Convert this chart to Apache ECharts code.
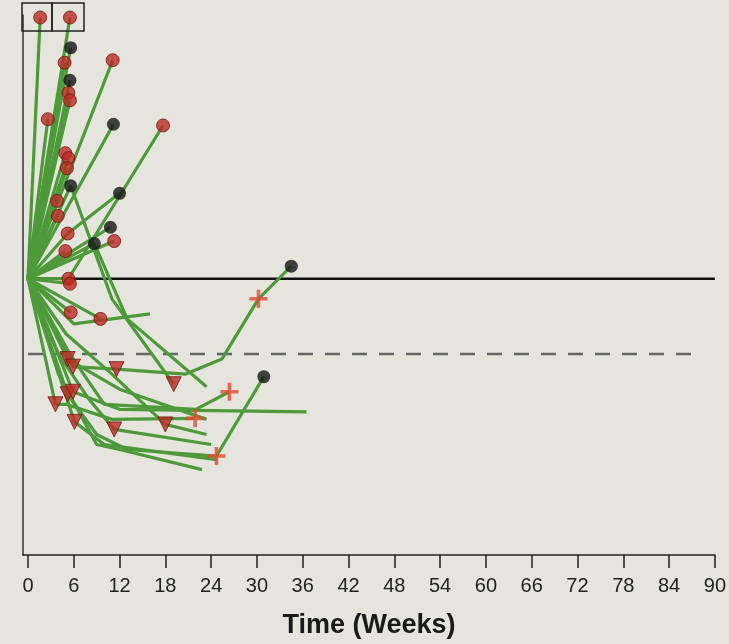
<!DOCTYPE html>
<html>
<head>
<meta charset="utf-8">
<script src="https://cdn.jsdelivr.net/npm/echarts@6/dist/echarts.min.js"></script>
<style>
  html, body { margin: 0; padding: 0; background: #e5e5de; }
  #chart { width: 729px; height: 644px; }
</style>
</head>
<body>
<div id="chart"></div>
<script>
// x ticks (weeks)
var weekTicks = [0, 6, 12, 18, 24, 30, 36, 42, 48, 54, 60, 66, 72, 78, 84, 90];

// reference lines (% change)
var baselineY = 0;
var responseY = -30;

// one path per patient: [week, % change from baseline]
var patients = [
    [[0,0],[1.6,104]],
    [[0,0],[5.5,104]],
    [[0,0],[5.6,92]],
    [[0,0],[4.8,86]],
    [[0,0],[5.5,79]],
    [[0,0],[5.3,74]],
    [[0,0],[5.5,71]],
    [[0,0],[11.1,87]],
    [[0,0],[2.6,63.5]],
    [[0,0],[11.2,61.5]],
    [[0,0],[5.3,0],[17.7,61]],
    [[0,0],[4.9,50]],
    [[0,0],[5.3,48]],
    [[0,0],[5.1,44]],
    [[0,0],[5.6,37],[11,-8],[19.1,-42]],
    [[0,0],[5.2,18],[12,34]],
    [[0,0],[10.8,20.5]],
    [[0,0],[11.3,15]],
    [[0,0],[8.7,14],[13,-16],[23.4,-43]],
    [[0,0],[3.8,31]],
    [[0,0],[3.9,25]],
    [[0,0],[4.9,11]],
    [[0,0],[5.5,-2]],
    [[0,0],[5.6,-13.4]],
    [[0,0],[9.5,-16]],
    [[0,0],[6,-18],[16,-14]],
    [[0,0],[5.2,-32],[12,-44],[23.4,-56]],
    [[0,0],[5.9,-35],[11.6,-36],[20.6,-38],[25.4,-32],[30.2,-8],[34.5,5]],
    [[0,0],[5.5,-30],[10,-50],[22,-52],[26.4,-45]],
    [[0,0],[5.9,-45],[12,-52],[36.5,-53]],
    [[0,0],[3.6,-50],[5,-50],[11,-56],[21.9,-55.6]],
    [[0,0],[5,-22],[11,-38],[18,-58],[23.4,-62]],
    [[0,0],[5.2,-46],[9,-62],[13,-68],[24.7,-70.6],[30.9,-39]],
    [[0,0],[4,-38],[9,-66],[12,-68],[22.8,-76]],
    [[0,0],[6.1,-57],[10,-66],[24.7,-72]],
    [[0,0],[4,-30],[8,-48],[11.3,-60],[24,-66]]
];

// markers
var redDots = [[1.6,104],[5.5,104],[4.8,86],[5.3,74],[5.5,71],[11.1,87],[2.6,63.5],[17.7,61],
    [4.9,50],[5.3,48],[5.1,44],[3.8,31],[3.9,25],[11.3,15],[5.2,18],[4.9,11],[5.3,0],[5.5,-2],
    [5.6,-13.4],[9.5,-16]];
var blackDots = [[5.6,92],[5.5,79],[11.2,61.5],[5.6,37],[12,34],[10.8,20.5],[8.7,14],[34.5,5],[30.9,-39]];
var triangles = [[5.2,-32],[5.9,-35],[11.6,-36],[19.1,-42],[3.6,-50],[5.2,-46],[5.9,-45],[6.1,-57],[11.3,-60],[18,-58]];
var crosses = [[30.2,-8],[26.4,-45],[21.9,-55.6],[24.7,-70.6]];

var chart = echarts.init(document.getElementById('chart'));

var series = [];
// baseline and -30% line
series.push({
    type: 'line', data: [[0, baselineY], [90, baselineY]], symbol: 'none', silent: true, z: 1,
    lineStyle: { color: '#111', width: 2.5 }
});
series.push({
    type: 'line', data: [[0, responseY], [88, responseY]], symbol: 'none', silent: true, z: 1,
    lineStyle: { color: '#666', width: 2.5, type: [15, 12] }
});
for (var i = 0; i < patients.length; i++) {
    series.push({
        type: 'line', data: patients[i], symbol: 'none', z: 2,
        lineStyle: { color: '#4e9a3a', width: 3.2 }
    });
}
series.push({
    type: 'scatter', data: redDots, symbol: 'circle', symbolSize: 13, z: 5, clip: false,
    itemStyle: { color: '#bd2b26', borderColor: '#6e1812', borderWidth: 1 }
});
series.push({
    type: 'scatter', data: blackDots, symbol: 'circle', symbolSize: 13, z: 5, clip: false,
    itemStyle: { color: '#141414' }
});
series.push({
    type: 'scatter', data: triangles, symbol: 'triangle', symbolRotate: 180, symbolSize: 15, z: 5,
    itemStyle: { color: '#bd2b26', borderColor: '#6e1812', borderWidth: 1 }
});
series.push({
    type: 'scatter', data: crosses, symbol: 'path://M4,0h2v4h4v2h-4v4h-2v-4h-4v-2h4z', symbolSize: 18, z: 5,
    itemStyle: { color: '#e3482f' }
});

chart.setOption({
    backgroundColor: '#e5e5de',
    animation: false,
    grid: { left: 23, right: 9, top: 15, bottom: 85 },
    xAxis: {
        type: 'value', min: -0.65, max: 90,
        name: 'Time (Weeks)', nameLocation: 'middle', nameGap: 57,
        nameTextStyle: { fontFamily: 'Liberation Sans', fontSize: 27, fontWeight: 'bold', color: '#1a1a1a' },
        axisLine: { onZero: false, lineStyle: { color: '#222', width: 1.5 } },
        axisTick: { show: true, length: 13, customValues: weekTicks, lineStyle: { color: '#222', width: 1.5 } },
        axisLabel: {
            fontFamily: 'Liberation Sans', fontSize: 20, color: '#222', margin: 21,
            customValues: weekTicks
        },
        splitLine: { show: false }
    },
    yAxis: {
        type: 'value', min: -110, max: 105,
        axisLine: { show: true, onZero: false, lineStyle: { color: '#333', width: 1.5 } },
        axisTick: { show: false },
        axisLabel: { show: false },
        splitLine: { show: false }
    },
    graphic: [
        { type: 'rect', shape: { x: 22, y: 3, width: 30, height: 28 }, style: { fill: 'none', stroke: '#222', lineWidth: 1.5 }, z: 10 },
        { type: 'rect', shape: { x: 52, y: 3, width: 32, height: 28 }, style: { fill: 'none', stroke: '#222', lineWidth: 1.5 }, z: 10 }
    ],
    series: series
});
</script>
</body>
</html>
